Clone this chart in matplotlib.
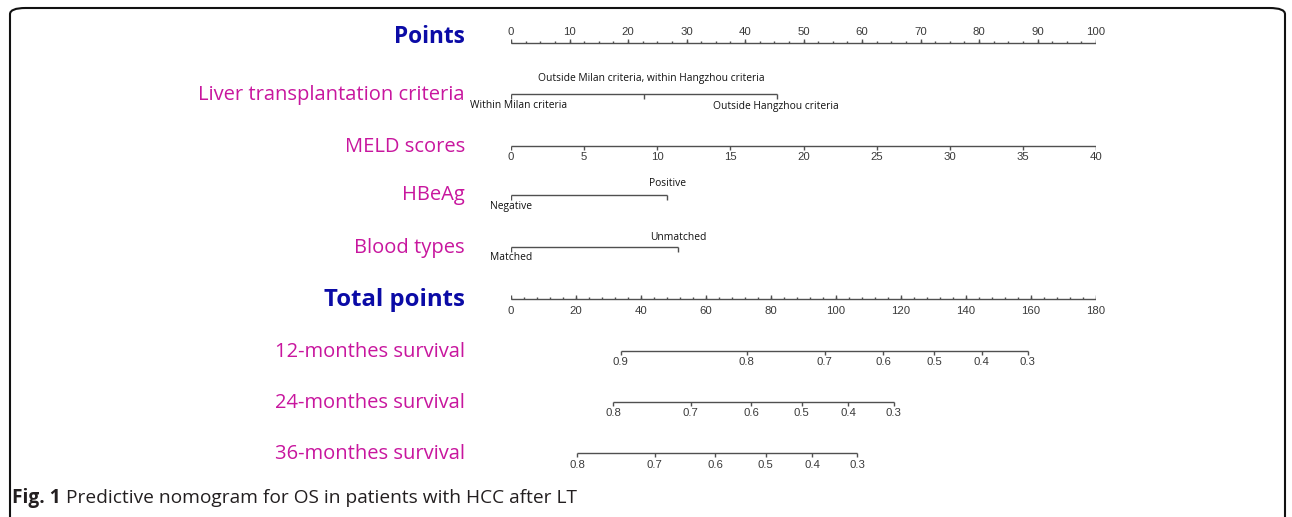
import matplotlib
matplotlib.use("Agg")
import matplotlib.pyplot as plt
from matplotlib.patches import FancyBboxPatch
import numpy as np

# ---------------- data ----------------
points_ticks = list(range(0, 101, 10))
points_minor = list(np.arange(0, 100.1, 2.5))

liver_labels = ["Within Milan criteria", "Outside Milan criteria, within Hangzhou criteria",
                "Outside Hangzhou criteria"]
liver_points = [0, 22.7, 45.4]

meld_ticks = [0, 5, 10, 15, 20, 25, 30, 35, 40]
meld_points_per_unit = 2.5   # MELD 40 -> 100 points

hbeag_labels = ["Negative", "Positive"]
hbeag_points = [0, 26.7]

blood_labels = ["Matched", "Unmatched"]
blood_points = [0, 28.6]

total_ticks = list(range(0, 181, 20))
total_minor = list(range(0, 181, 4))
total_max = 180

surv12_probs = [0.9, 0.8, 0.7, 0.6, 0.5, 0.4, 0.3]
surv12_total = [33.7, 72.5, 96.5, 114.6, 130.3, 144.8, 159.0]
surv24_probs = [0.8, 0.7, 0.6, 0.5, 0.4, 0.3]
surv24_total = [31.4, 55.3, 73.9, 89.5, 103.8, 117.7]
surv36_probs = [0.8, 0.7, 0.6, 0.5, 0.4, 0.3]
surv36_total = [20.3, 44.2, 62.8, 78.4, 92.7, 106.6]

row_titles = ["Points", "Liver transplantation criteria", "MELD scores", "HBeAg", "Blood types",
              "Total points", "12-monthes survival", "24-monthes survival", "36-monthes survival"]

caption_bold = "Fig. 1"
caption_text = " Predictive nomogram for OS in patients with HCC after LT"

# ---------------- layout ----------------
W, H = 1292, 517
fig = plt.figure(figsize=(W / 100, H / 100), dpi=100)
X0, X1 = 511, 1096
ax = fig.add_axes([X0 / W, 0, (X1 - X0) / W, 1])
ax.set_xlim(0, 100)
ax.set_ylim(H, 0)
ax.axis("off")

LINE_C = "#505050"
TICK_C = "#3a3a3a"
BLUE = "#0b0ba6"
MAG = "#c8169e"
TITLE_FONT = ["Open Sans", "DejaVu Sans"]
TICK_FONT = ["Liberation Sans", "DejaVu Sans"]
CAT_FONT = ["Open Sans", "DejaVu Sans"]
CAT_FS = 7.4

lw = 1.0


def hline(a, b, y):
    ax.plot([a, b], [y, y], color=LINE_C, lw=lw, solid_capstyle="butt")


def ticks(xs, y, length, up):
    for x in xs:
        y2 = y - length if up else y + length
        ax.plot([x, x], [y, y2], color=LINE_C, lw=lw, solid_capstyle="butt")


def tlabels(xs, labels, y, fs=8.2, font=TICK_FONT):
    for x, l in zip(xs, labels):
        ax.text(x, y, l, ha="center", va="center", fontsize=fs, family=font, color=TICK_C)


def catlabel(x, y, text, dx_px=0):
    ax.annotate(text, (x, y), xytext=(dx_px * 0.72, 0), textcoords="offset points",
                ha="center", va="center", fontsize=CAT_FS, family=CAT_FONT, color="#111111")


def fmt(v):
    return f"{v:g}"

# Points row
y = 43
hline(0, 100, y)
ticks(points_minor, y, 2.2, True)
ticks(points_ticks, y, 4.5, True)
tlabels(points_ticks, [fmt(v) for v in points_ticks], 32)

# Liver transplantation criteria
y = 94
hline(min(liver_points), max(liver_points), y)
ticks(liver_points, y, 4.5, False)
catlabel(liver_points[0], 106, liver_labels[0], dx_px=8)
catlabel(liver_points[1], 79, liver_labels[1], dx_px=8)
catlabel(liver_points[2], 106, liver_labels[2], dx_px=-1)

# MELD
y = 146
meld_pts = [m * meld_points_per_unit for m in meld_ticks]
hline(0, max(meld_pts), y)
ticks(meld_pts, y, 3.5, False)
tlabels(meld_pts, [fmt(v) for v in meld_ticks], 157)

# HBeAg
y = 195
hline(min(hbeag_points), max(hbeag_points), y)
ticks(hbeag_points, y, 4.5, False)
catlabel(hbeag_points[0], 207, hbeag_labels[0])
catlabel(hbeag_points[1], 184, hbeag_labels[1])

# Blood types
y = 247
hline(min(blood_points), max(blood_points), y)
ticks(blood_points, y, 4.5, False)
catlabel(blood_points[0], 258, blood_labels[0])
catlabel(blood_points[1], 237, blood_labels[1])

# Total points
y = 299
to_pts = lambda t: t * 100.0 / total_max
hline(0, 100, y)
ticks([to_pts(t) for t in total_minor], y, 2.2, True)
ticks([to_pts(t) for t in total_ticks], y, 4.0, True)
tlabels([to_pts(t) for t in total_ticks], [fmt(v) for v in total_ticks], 311)

# survival rows
for (probs, tot, yl, ylab) in [(surv12_probs, surv12_total, 351, 362),
                               (surv24_probs, surv24_total, 402, 413),
                               (surv36_probs, surv36_total, 453, 465)]:
    xs = [to_pts(t) for t in tot]
    hline(min(xs), max(xs), yl)
    ticks(xs, yl, 4.0, False)
    tlabels(xs, [fmt(p) for p in probs], ylab)

# Row titles
title_y = [37, 95, 147, 195, 248, 300, 352, 403, 454]
for t, yy in zip(row_titles, title_y):
    bold = t in ("Points", "Total points")
    fig.text(465 / W, 1 - yy / H, t, ha="right", va="center",
             fontsize=(16.3 if t == "Points" else 17.2) if bold else 14.5,
             fontweight="bold" if bold else "normal",
             family=TITLE_FONT, color=BLUE if bold else MAG)

# Caption
CAP_FS = 13.8
cap = fig.text(12 / W, 1 - 498 / H, caption_bold, ha="left", va="center", fontsize=CAP_FS,
               fontweight="bold", family=TITLE_FONT, color="#231f20")
fig.canvas.draw()
bb = cap.get_window_extent()
fig.text(bb.x1 / W, 1 - 498 / H, caption_text, ha="left", va="center", fontsize=CAP_FS,
         family=TITLE_FONT, color="#231f20")

# Rounded frame
frame = FancyBboxPatch((10 / W, -30 / H), (1285 - 10) / W, (517 - 8 + 30) / H,
                       boxstyle="round,pad=0,rounding_size=0.012", transform=fig.transFigure,
                       facecolor="none", edgecolor="#111111", lw=1.5, clip_on=False)
fig.patches.append(frame)

fig.savefig("out.png", dpi=100)
